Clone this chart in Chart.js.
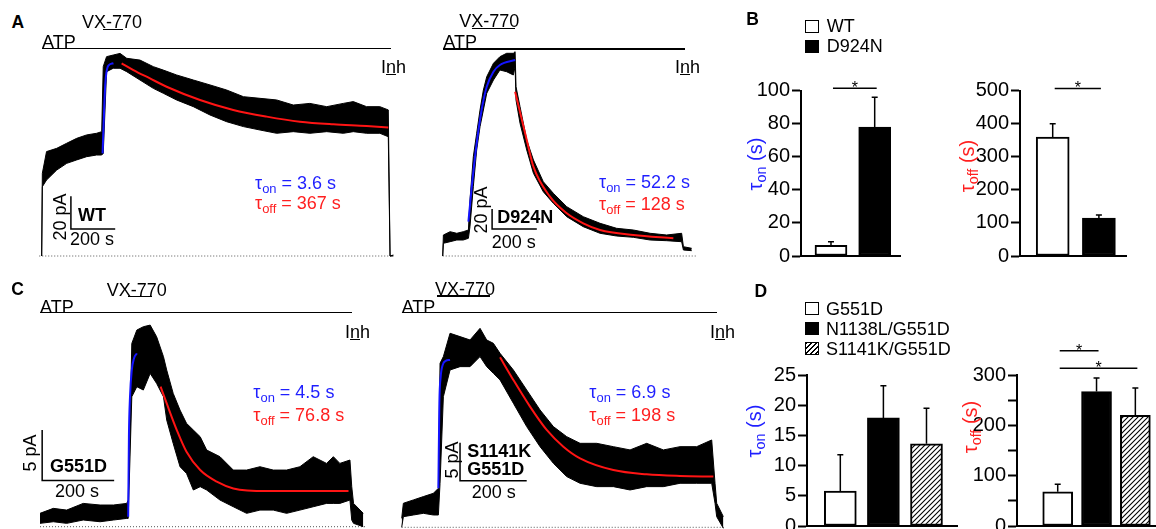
<!DOCTYPE html>
<html>
<head>
<meta charset="utf-8">
<script src="https://cdn.jsdelivr.net/npm/chart.js@4.4.0/dist/chart.umd.min.js"></script>
<style>
  html, body { margin: 0; padding: 0; background: #fff; overflow: hidden; }
  body { width: 1156px; height: 529px; position: relative; font-family: "Liberation Sans", Arial, sans-serif; }
  canvas { position: absolute; }
  .t { position: absolute; font-size: 18px; line-height: 1; white-space: nowrap; color: #000; }
  .b { font-weight: bold; }
  .letter { font-size: 17.5px; font-weight: bold; }
  .blue { color: #1f1fff; }
  .red { color: #ff1f1f; }
  .bar { position: absolute; height: 1.6px; background: #000; }
  .rot { position: absolute; transform: translate(-50%, -50%) rotate(-90deg); white-space: nowrap; line-height: 1; font-size: 18px; }
  .sw { position: absolute; width: 12px; height: 11px; border: 1.5px solid #000; background: #fff; }
  sub { font-size: 0.72em; vertical-align: -0.3em; line-height: 0; }
</style>
</head>
<body>
<canvas id="traceWT" width="372" height="222" style="left:30px;top:40px"></canvas>
<canvas id="traceD924N" width="272" height="222" style="left:432px;top:40px"></canvas>
<canvas id="traceG551D" width="345" height="224" style="left:30px;top:305px"></canvas>
<canvas id="traceS1141K" width="345" height="224" style="left:392px;top:305px"></canvas>
<canvas id="barBon" width="165" height="210" style="left:740px;top:60px"></canvas>
<canvas id="barBoff" width="172" height="210" style="left:960px;top:60px"></canvas>
<canvas id="barDon" width="216" height="185" style="left:745px;top:355px"></canvas>
<canvas id="barDoff" width="201" height="205" style="left:955px;top:335px"></canvas>

<!-- panel A, WT -->
<div class="t letter" style="left:11.5px;top:14.3px">A</div>
<div class="t" style="left:82px;top:12.7px">VX-770</div>
<div class="bar" style="left:103px;top:28.5px;width:20px"></div>
<div class="t" style="left:42px;top:32.7px">ATP</div>
<div class="bar" style="left:41.7px;top:47.5px;width:349px"></div>
<div class="t" style="left:381px;top:57.7px">I<u>n</u>h</div>
<div class="t blue" style="left:255px;top:173.7px">τ<sub>on</sub> = 3.6 s</div>
<div class="t red" style="left:255px;top:194.4px">τ<sub>off</sub> = 367 s</div>
<div class="rot" style="left:60px;top:217px">20 pA</div>
<div class="t b" style="left:78px;top:206px">WT</div>
<div class="t" style="left:70px;top:229.7px">200 s</div>

<!-- panel A, D924N -->
<div class="t" style="left:459.3px;top:11.7px">VX-770</div>
<div class="bar" style="left:471.7px;top:27.7px;width:43.3px"></div>
<div class="t" style="left:443.3px;top:33.4px">ATP</div>
<div class="bar" style="left:442.7px;top:48.3px;width:242.3px"></div>
<div class="t" style="left:675px;top:58.4px">I<u>n</u>h</div>
<div class="t blue" style="left:599px;top:172.7px">τ<sub>on</sub> = 52.2 s</div>
<div class="t red" style="left:599px;top:194.7px">τ<sub>off</sub> = 128 s</div>
<div class="rot" style="left:481px;top:210px">20 pA</div>
<div class="t b" style="left:497.3px;top:207.7px">D924N</div>
<div class="t" style="left:491.7px;top:232.7px">200 s</div>

<!-- panel C, G551D -->
<div class="t letter" style="left:11.2px;top:280.7px">C</div>
<div class="t" style="left:106.7px;top:281px">VX-770</div>
<div class="bar" style="left:127.7px;top:295.5px;width:24px"></div>
<div class="t" style="left:40px;top:297.7px">ATP</div>
<div class="bar" style="left:40px;top:311.8px;width:312.3px"></div>
<div class="t" style="left:345px;top:322.7px">I<u>n</u>h</div>
<div class="t blue" style="left:253.3px;top:382.7px">τ<sub>on</sub> = 4.5 s</div>
<div class="t red" style="left:253.3px;top:406px">τ<sub>off</sub> = 76.8 s</div>
<div class="rot" style="left:30px;top:453px">5 pA</div>
<div class="t b" style="left:50px;top:456.7px">G551D</div>
<div class="t" style="left:55px;top:482px">200 s</div>

<!-- panel C, S1141K/G551D -->
<div class="t" style="left:435px;top:280px">VX-770</div>
<div class="bar" style="left:436.7px;top:295px;width:53.3px"></div>
<div class="t" style="left:401.7px;top:297.7px">ATP</div>
<div class="bar" style="left:401.7px;top:311.8px;width:315.6px"></div>
<div class="t" style="left:710px;top:322.7px">I<u>n</u>h</div>
<div class="t blue" style="left:589.3px;top:382.7px">τ<sub>on</sub> = 6.9 s</div>
<div class="t red" style="left:589.3px;top:406px">τ<sub>off</sub> = 198 s</div>
<div class="rot" style="left:451.7px;top:460px">5 pA</div>
<div class="t b" style="left:467.3px;top:441.7px">S1141K</div>
<div class="t b" style="left:467.3px;top:460px">G551D</div>
<div class="t" style="left:471.7px;top:482.7px">200 s</div>

<!-- panel B -->
<div class="t letter" style="left:746.2px;top:11px">B</div>
<div class="sw" style="left:805px;top:19.5px"></div>
<div class="sw" style="left:805px;top:39.5px;background:#000"></div>
<div class="t" style="left:826.7px;top:16.7px">WT</div>
<div class="t" style="left:826.7px;top:37px">D924N</div>
<div class="rot blue" style="left:755px;top:164px;font-size:20px">τ<sub>on</sub> (s)</div>
<div class="rot red" style="left:966.7px;top:166px;font-size:20px">τ<sub>off</sub> (s)</div>

<!-- panel D -->
<div class="t letter" style="left:754.5px;top:282.7px">D</div>
<div class="sw" style="left:805px;top:301.5px"></div>
<div class="sw" style="left:805px;top:321.5px;background:#000"></div>
<div class="sw" style="left:805px;top:341.5px;background:repeating-linear-gradient(135deg,#000 0 1px,#fff 1px 3.5px)"></div>
<div class="t" style="left:826px;top:300px">G551D</div>
<div class="t" style="left:826px;top:320px">N1138L/G551D</div>
<div class="t" style="left:826px;top:340px">S1141K/G551D</div>
<div class="rot blue" style="left:754px;top:431px;font-size:20px">τ<sub>on</sub> (s)</div>
<div class="rot red" style="left:970px;top:427px;font-size:20px">τ<sub>off</sub> (s)</div>

<script>
// ---- WT trace (time in s, current in pA), noise band read as upper/lower envelope
const wtTime = [0, 3, 22, 68, 113, 158, 203, 248, 271, 278, 293, 323, 354, 384, 444, 504, 549, 609, 685, 760, 835, 911, 986, 1061, 1136, 1211, 1287, 1362, 1407, 1467, 1527, 1565, 1573, 1588];
const wtUpper = [0, 50.6, 63.9, 65.9, 69.0, 72.0, 74.1, 75.1, 76.1, 115.9, 122.0, 123.0, 124.0, 121.0, 119.9, 115.9, 113.8, 110.8, 107.7, 104.7, 101.6, 97.5, 96.5, 95.5, 92.4, 93.4, 91.4, 93.4, 94.5, 91.4, 91.4, 89.4, 0, 0.6];
const wtLower = [0, 42.4, 46.5, 52.6, 56.7, 58.8, 60.8, 61.8, 61.8, 62.8, 112.8, 114.9, 114.9, 112.8, 107.7, 102.6, 99.6, 95.5, 91.4, 86.3, 82.2, 79.2, 77.1, 75.1, 76.1, 75.1, 76.1, 75.1, 76.1, 75.1, 75.1, 73.0, 0, 0];
const wtOnTime = [275, 282, 287, 292, 301, 324];
const wtOnFit = [62.8, 89.4, 105, 112, 116.5, 118];
const wtOffTime = [361, 414, 489, 564, 715, 865, 1016, 1166, 1317, 1467, 1565];
const wtOffFit = [117.9, 113.8, 108.7, 103.6, 95.5, 89.4, 85.3, 82.2, 80.6, 79.6, 78.7];

// ---- D924N trace
const dTime = [0, 3, 33, 63, 92, 115, 122, 137, 152, 167, 182, 197, 227, 256, 286, 316, 324, 328, 346, 376, 406, 450, 495, 555, 629, 704, 778, 853, 928, 1002, 1069, 1077, 1114];
const dUpper = [0, 21, 24.3, 22.7, 24.3, 26, 56, 99.3, 122.7, 146, 166, 179.3, 192.7, 199.3, 202.7, 202.7, 204.3, 169.3, 149.3, 116, 96, 74.3, 62.7, 49.3, 39.3, 32.7, 27.7, 26, 22.7, 21, 22.7, 9.3, 7.7];
const dLower = [0, 12.7, 14.3, 16, 16, 17.7, 29.3, 69.3, 106, 129.3, 146, 162.7, 176, 186, 184.3, 181, 189.3, 156, 132.7, 106, 82.7, 64.3, 52.7, 39.3, 29.3, 22.7, 20, 18.7, 16, 15.3, 14.3, 6, 5.3];
const dOnTime = [115, 130, 152, 174, 197, 227, 256, 324];
const dOnFit = [34.3, 69.3, 112.7, 146, 169.3, 184.3, 191, 196];
const dOffTime = [324, 376, 406, 480, 555, 629, 704, 853, 1032];
const dOffFit = [164.3, 116, 89.3, 59.3, 42.7, 32.7, 26, 21, 17.7];

// ---- G551D trace
const gTime = [0, 37, 74, 120, 167, 204, 241, 245, 255, 269, 287, 306, 324, 343, 352, 370, 389, 407, 426, 445, 463, 500, 537, 574, 611, 648, 685, 722, 759, 796, 815, 833, 861, 866, 871, 898];
const gUpper = [1.32, 1.81, 1.64, 2.30, 2.14, 2.14, 2.30, 2.63, 18.09, 19.41, 19.74, 19.90, 18.75, 16.78, 15.46, 13.16, 11.51, 10.20, 9.54, 8.88, 7.57, 6.91, 5.59, 5.59, 5.92, 5.59, 5.59, 5.92, 6.91, 6.25, 6.91, 6.25, 6.58, 3.95, 2.30, 1.32];
const gLower = [0.33, 0.49, 0.33, 0.66, 0.49, 0.66, 0.82, 0.82, 12.83, 13.82, 13.49, 15.13, 14.14, 12.83, 10.53, 8.22, 5.92, 5.26, 3.62, 3.95, 3.62, 2.63, 1.97, 1.32, 1.64, 1.64, 1.32, 1.64, 1.97, 2.30, 2.30, 2.30, 2.63, 0.66, 0.33, 0];
const gOnTime = [245, 247, 250, 255, 261, 269];
const gOnFit = [0.99, 8.88, 12.83, 15.46, 16.61, 17.11];
const gOffTime = [335, 352, 380, 407, 445, 491, 537, 630, 857];
const gOffFit = [13.82, 12.17, 9.54, 7.40, 5.59, 4.44, 3.78, 3.52, 3.52];

// ---- S1141K/G551D trace
const sTime = [0, 5, 35, 65, 95, 110, 115, 125, 145, 175, 205, 235, 255, 275, 295, 335, 375, 415, 455, 495, 535, 585, 635, 685, 735, 785, 835, 885, 930, 940, 945, 965];
const sUpper = [1.18, 3.16, 3.60, 4.04, 4.47, 5.13, 21.58, 22.46, 25.53, 25.09, 24.65, 26.18, 24.65, 24.21, 22.89, 20.70, 18.07, 15.44, 13.25, 11.93, 11.05, 11.05, 10.61, 10.18, 11.05, 10.18, 10.61, 10.61, 11.49, 5.79, 3.16, 1.40];
const sLower = [0, 1.40, 1.62, 1.84, 1.62, 1.62, 5.79, 17.19, 20.70, 21.14, 21.14, 22.46, 21.14, 20.26, 19.39, 16.32, 13.25, 10.61, 8.42, 6.67, 5.79, 5.35, 5.35, 4.91, 5.35, 5.35, 5.79, 5.79, 5.79, 3.16, 1.40, -0.13];
const sOnTime = [110, 113, 117, 123, 132, 145];
const sOnFit = [5.13, 16.32, 19.82, 21.36, 21.89, 22.02];
const sOffTime = [295, 335, 385, 435, 485, 535, 635, 735, 835, 935];
const sOffFit = [22.37, 19.39, 15.88, 12.81, 10.61, 9.08, 7.54, 6.97, 6.75, 6.67];

// ---- bar summaries (mean, SEM)
const groupsB = ["WT", "D924N"];
const tauOnB = [6.4, 78];
const tauOnErrB = [2.2, 18];
const tauOffB = [360, 115];
const tauOffErrB = [40, 9];

const groupsD = ["G551D", "N1138L/G551D", "S1141K/G551D"];
const tauOnD = [5.8, 17.9, 13.6];
const tauOnErrD = [6.0, 5.3, 5.9];
const tauOffD = [68, 267, 220];
const tauOffErrD = [15, 27, 54];

const BLUE = "#1414ff";
const RED = "#ff1414";

Chart.defaults.font.family = '"Liberation Sans", Arial, sans-serif';
Chart.defaults.color = "#000";

const pts = (xs, ys) => xs.map((x, i) => ({ x, y: ys[i] }));

// hatch for S1141K bars
const hatchCanvas = document.createElement("canvas");
hatchCanvas.width = 5;
hatchCanvas.height = 5;
const hctx = hatchCanvas.getContext("2d");
hctx.fillStyle = "#fff";
hctx.fillRect(0, 0, 5, 5);
hctx.strokeStyle = "#000";
hctx.lineWidth = 1.1;
hctx.beginPath();
hctx.moveTo(0, 5); hctx.lineTo(5, 0);
hctx.moveTo(-1, 1); hctx.lineTo(1, -1);
hctx.moveTo(4, 6); hctx.lineTo(6, 4);
hctx.stroke();
const hatch = hctx.createPattern(hatchCanvas, "repeat");

const traceChart = (id, p) => {
  const ctx = document.getElementById(id).getContext("2d");
  return new Chart(ctx, {
    type: "line",
    data: {
      datasets: [
        { data: pts(p.onT, p.onI), borderColor: BLUE, borderWidth: 2, cubicInterpolationMode: "monotone", order: 0 },
        { data: pts(p.offT, p.offI), borderColor: RED, borderWidth: 2, cubicInterpolationMode: "monotone", order: 0 },
        { data: pts(p.t, p.hi), borderColor: "#000", borderWidth: 1, backgroundColor: "#000", fill: "+1", order: 1 },
        { data: pts(p.t, p.lo), borderColor: "#000", borderWidth: 1, order: 1 },
        { data: pts(p.baseT, [0, 0]), borderColor: "#555", borderWidth: 1, borderDash: [1, 2], order: 2 },
        { data: pts(p.barT, p.barI), borderColor: "#000", borderWidth: 1.5, order: 0 },
      ],
    },
    options: {
      responsive: false,
      animation: false,
      devicePixelRatio: 1,
      layout: { padding: 0 },
      plugins: { legend: { display: false }, tooltip: { enabled: false } },
      elements: { point: { radius: 0 }, line: { tension: 0 } },
      scales: {
        x: { type: "linear", display: false, min: p.xMin, max: p.xMax },
        y: { type: "linear", display: false, min: p.yMin, max: p.yMax },
      },
    },
  });
};

// error bars and significance brackets
const errSig = {
  id: "errSig",
  afterDatasetsDraw(chart, args, opts) {
    const { ctx } = chart;
    const xs = chart.scales.x;
    const ys = chart.scales.y;
    ctx.save();
    ctx.strokeStyle = "#000";
    ctx.fillStyle = "#000";
    ctx.lineWidth = 1.5;
    opts.err.forEach((e, i) => {
      const bar = chart.getDatasetMeta(i).data[0];
      const top = ys.getPixelForValue(opts.values[i] + e);
      ctx.beginPath();
      ctx.moveTo(bar.x, bar.y);
      ctx.lineTo(bar.x, top);
      ctx.moveTo(bar.x - 3, top);
      ctx.lineTo(bar.x + 3, top);
      ctx.stroke();
    });
    ctx.font = '16px "Liberation Sans", Arial, sans-serif';
    ctx.textAlign = "center";
    opts.sig.forEach((s) => {
      const x1 = xs.getPixelForValue(s.from) + 2;
      const x2 = xs.getPixelForValue(s.to) + 2;
      const py = ys.getPixelForValue(s.y);
      ctx.beginPath();
      ctx.moveTo(x1, py);
      ctx.lineTo(x2, py);
      ctx.stroke();
      ctx.fillText("*", (x1 + x2) / 2, py + 5);
    });
    ctx.restore();
  },
};

const fills = ["#fff", "#000", hatch];

const barChart = (id, p) => {
  const ctx = document.getElementById(id).getContext("2d");
  return new Chart(ctx, {
    type: "bar",
    data: {
      datasets: p.names.map((name, i) => ({
        label: name,
        data: [{ x: i + 1, y: p.values[i] }],
        backgroundColor: fills[i],
        borderColor: "#000",
        borderWidth: 2,
        borderSkipped: false,
        barThickness: p.thick,
        grouped: false,
      })),
    },
    options: {
      responsive: false,
      animation: false,
      devicePixelRatio: 1,
      layout: { padding: { top: p.padTop, right: p.padRight, left: 0, bottom: 0 } },
      plugins: {
        legend: { display: false },
        tooltip: { enabled: false },
        errSig: { err: p.err, values: p.values, sig: p.sig },
      },
      scales: {
        x: {
          type: "linear",
          offset: false,
          min: p.xMin,
          max: p.xMax,
          ticks: { display: false },
          grid: { display: false },
          border: { color: "#000", width: 2 },
          afterFit: (s) => { s.height = 14; },
        },
        y: {
          min: 0,
          max: p.yMax,
          ticks: {
            stepSize: p.step,
            color: "#000",
            font: { size: 20 },
            padding: 2,
            callback: p.label || ((v) => v),
          },
          grid: { drawOnChartArea: false, tickLength: 9, tickWidth: 2, tickColor: "#000" },
          border: { color: "#000", width: 2 },
          afterFit: (s) => { s.width = p.axisW; },
        },
      },
    },
    plugins: [errSig],
  });
};

traceChart("traceWT", {
  t: wtTime, hi: wtUpper, lo: wtLower,
  onT: wtOnTime, onI: wtOnFit, offT: wtOffTime, offI: wtOffFit,
  baseT: [-11, 1581], barT: [132, 132, 332], barI: [36.5, 16.5, 16.5],
  xMin: -52.7, xMax: 1626.9, yMin: -3.67, yMax: 132.2,
});
traceChart("traceD924N", {
  t: dTime, hi: dUpper, lo: dLower,
  onT: dOnTime, onI: dOnFit, offT: dOffTime, offI: dOffFit,
  baseT: [0, 1136], barT: [221, 221, 421], barI: [47, 27, 27],
  xMin: -47.9, xMax: 1169.1, yMin: -6, yMax: 216,
});
traceChart("traceG551D", {
  t: gTime, hi: gUpper, lo: gLower,
  onT: gOnTime, onI: gOnFit, offT: gOffTime, offI: gOffFit,
  baseT: [0, 905], barT: [6, 6, 206], barI: [9.55, 4.55, 4.55],
  xMin: -27.8, xMax: 930.6, yMin: -0.227, yMax: 21.885,
});
traceChart("traceS1141K", {
  t: sTime, hi: sUpper, lo: sLower,
  onT: sOnTime, onI: sOnFit, offT: sOffTime, offI: sOffFit,
  baseT: [0, 970], barT: [175, 175, 375], barI: [11.13, 6.13, 6.13],
  xMin: -29.1, xMax: 1005.9, yMin: -0.224, yMax: 29.25,
});

barChart("barBon", {
  names: groupsB, values: tauOnB, err: tauOnErrB, sig: [{ from: 1, to: 2, y: 101.5 }],
  thick: 32, yMax: 100, step: 20, axisW: 61, padTop: 30.7, padRight: 5, xMin: 0.314, xMax: 2.579,
});
barChart("barBoff", {
  names: groupsB, values: tauOffB, err: tauOffErrB, sig: [{ from: 1, to: 2, y: 507 }],
  thick: 33, yMax: 500, step: 100, axisW: 60, padTop: 30.7, padRight: 5.3, xMin: 0.292, xMax: 2.602,
});
barChart("barDon", {
  names: groupsD, values: tauOnD, err: tauOnErrD, sig: [],
  thick: 32, yMax: 25, step: 5, axisW: 62, padTop: 20, padRight: 4, xMin: 0.227, xMax: 3.708,
});
barChart("barDoff", {
  names: groupsD, values: tauOffD, err: tauOffErrD,
  sig: [{ from: 1, to: 2, y: 348 }, { from: 1, to: 3, y: 313.5 }],
  thick: 30, yMax: 300, step: 50, axisW: 62, padTop: 40, padRight: 0, xMin: -0.049, xMax: 3.532,
  label: (v) => (v % 100 === 0 ? v : ""),
});
</script>
</body>
</html>
